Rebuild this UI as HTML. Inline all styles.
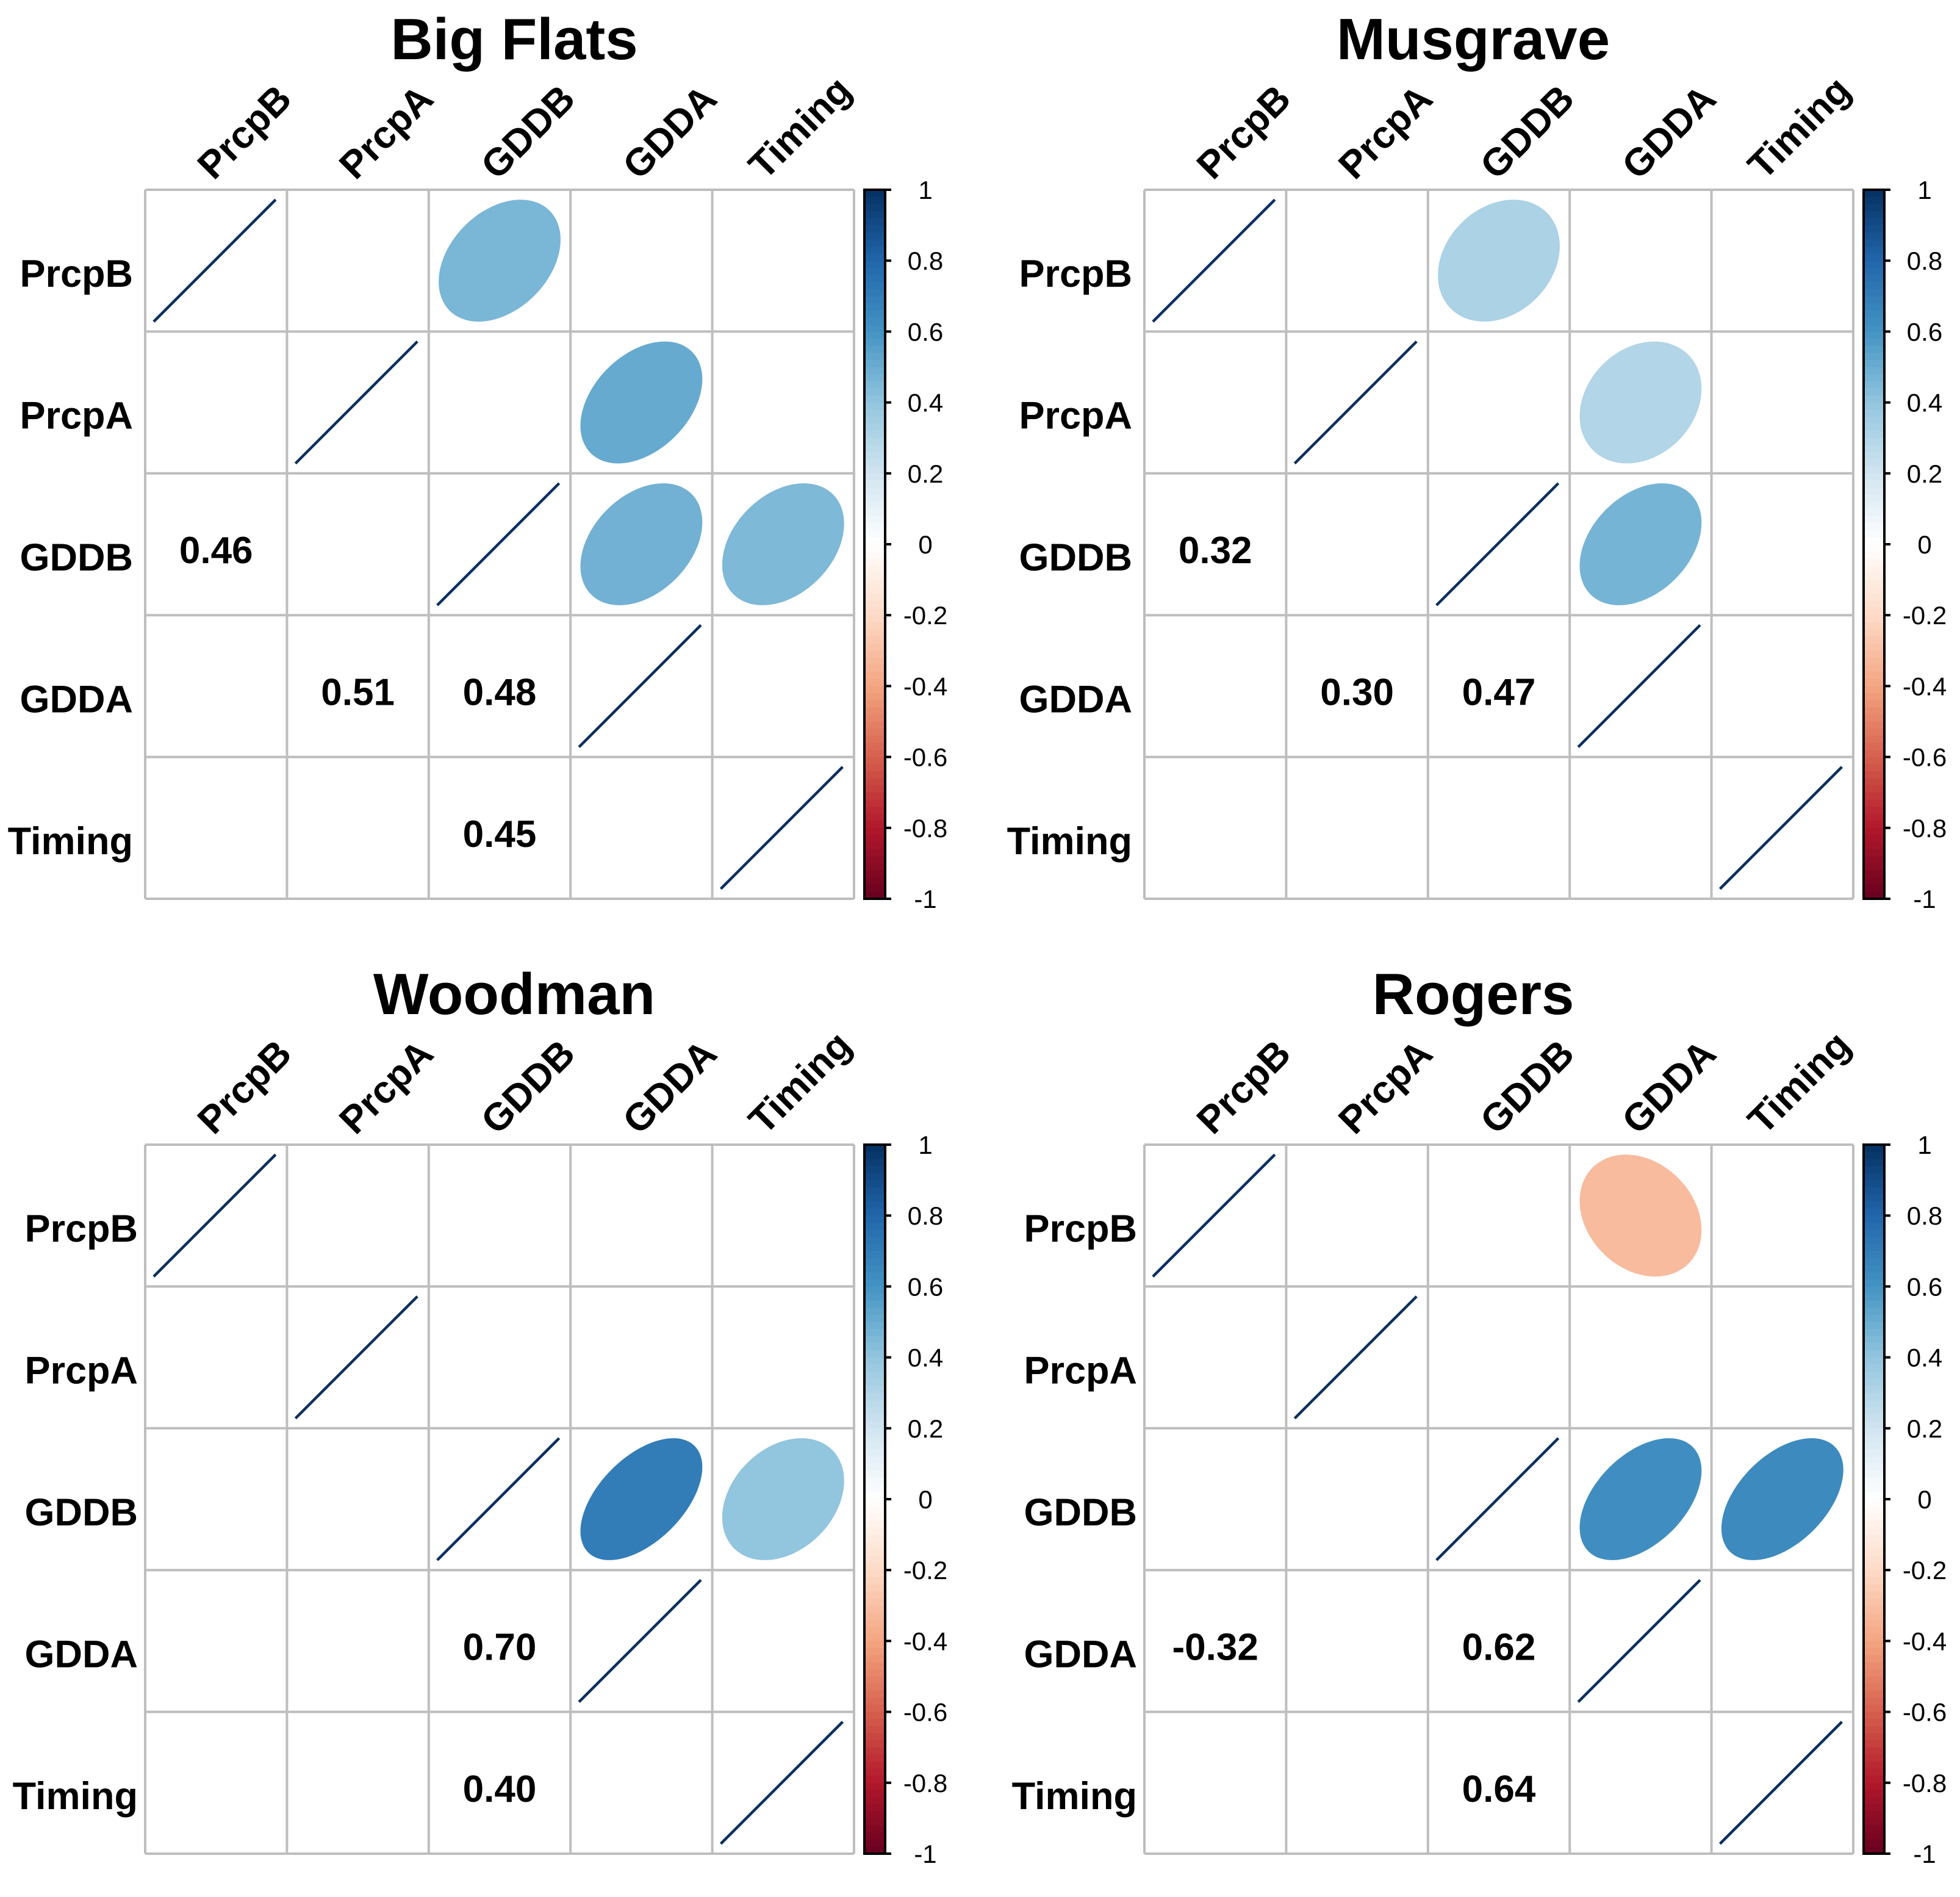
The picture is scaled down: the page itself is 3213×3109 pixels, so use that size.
<!DOCTYPE html>
<html><head><meta charset="utf-8"><style>
html,body{margin:0;padding:0;background:#fff;}
svg text{font-family:"Liberation Sans",Arial,sans-serif;}
</style></head><body>
<svg id="chart" xmlns="http://www.w3.org/2000/svg" width="3213" height="3104" viewBox="0 0 3213 3104"></svg>
<script>
const varNames = ["PrcpB","PrcpA","GDDB","GDDA","Timing"];
const panelTitles = ["Big Flats","Musgrave","Woodman","Rogers"];
// significant correlations: [row, col, value] (lower triangle; mirrored as ellipses)
const corrBigFlats = [[2,0,0.46],[3,1,0.51],[3,2,0.48],[4,2,0.45]];
const corrMusgrave = [[2,0,0.32],[3,1,0.30],[3,2,0.47]];
const corrWoodman = [[3,2,0.70],[4,2,0.40]];
const corrRogers = [[3,0,-0.32],[3,2,0.62],[4,2,0.64]];
const colorbarTicks = [1,0.8,0.6,0.4,0.2,0,-0.2,-0.4,-0.6,-0.8,-1];

const panelData = [corrBigFlats,corrMusgrave,corrWoodman,corrRogers];
const NS="http://www.w3.org/2000/svg";
const svg=document.getElementById('chart');
const stops=["#67001F","#B2182B","#D6604D","#F4A582","#FDDBC7","#FFFFFF","#D1E5F0","#92C5DE","#4393C3","#2166AC","#053061"];
function hex(h){return [1,3,5].map(i=>parseInt(h.substr(i,2),16));}
function colorFor(v){
  let p=(v+1)/2*10; let i=Math.min(9,Math.floor(p)); let f=p-i;
  const a=hex(stops[i]),b=hex(stops[i+1]);
  return 'rgb('+a.map((x,k)=>Math.round(x+(b[k]-x)*f)).join(',')+')';
}
function el(tag,attrs,parent){const e=document.createElementNS(NS,tag);for(const k in attrs)e.setAttribute(k,attrs[k]);(parent||svg).appendChild(e);return e;}

const CELL=232.4;
const origins=[[238,311],[1876,311],[238,1876],[1876,1876]];
const titleX=[843,2415,843,2415];

panelData.forEach((data,p)=>{
  const [gx,gy]=origins[p];
  const g=el('g',{});
  
  
  const sx=c=>gx+c*CELL, sy=r=>gy+r*CELL;
  const t=el('text',{x:titleX[p],y:97+(gy-311),'text-anchor':'middle','font-size':96,'font-weight':'bold'},g);
  t.textContent=panelTitles[p];
  
  
  for(let i=0;i<=5;i++){
    const h=el('line',{x1:sx(0),x2:sx(5),y1:sy(i),y2:sy(i),stroke:'#bebebe','stroke-width':4},g);
    
    
    const v=el('line',{x1:sx(i),x2:sx(i),y1:sy(0),y2:sy(5),stroke:'#bebebe','stroke-width':4},g);
    
    
  }
  const labRight = p<2 ? gx-20 : gx-12;
  varNames.forEach((n,i)=>{
    const rl=el('text',{x:labRight,y:sy(i+0.5)+43,'text-anchor':'end','font-size':63,'font-weight':'bold'},g);
    rl.textContent=n;
    
    
    const cx=sx(i+0.5)-4-(n==='Timing'?26:0), cy=gy-14;
    const cl=el('text',{x:cx,y:cy,'font-size':63,'font-weight':'bold',transform:'rotate(-45 '+cx+' '+cy+')'},g);
    cl.textContent=n;
    
    
    const x0=sx(i)+0.06*CELL,y0=sy(i)+0.93*CELL,x1=sx(i)+0.92*CELL,y1=sy(i)+0.07*CELL;
    const dl=el('line',{x1:x0,y1:y0,x2:x1,y2:y1,stroke:'#0b2f5f','stroke-width':4.5},g);
    
    
  });
  data.forEach(([r,c,v])=>{
    const tx=el('text',{x:sx(c+0.5),y:sy(r+0.5)+31,'text-anchor':'middle','font-size':62,'font-weight':'bold'},g);
    tx.textContent=v.toFixed(2);
    
    
    const d=Math.acos(0.75*v), cx=sx(r+0.5), cy=sy(c+0.5), R=0.43*CELL;
    let pts=[];
    for(let k=0;k<100;k++){const a=k/100*2*Math.PI;pts.push((cx+R*Math.cos(a+d/2)).toFixed(1)+','+(cy-R*Math.cos(a-d/2)).toFixed(1));}
    const e=el('polygon',{points:pts.join(' '),fill:colorFor(v)},g);
    
    
  });
  const bx=sx(5)+17, bw=34, top=sy(0), bot=sy(5);
  const cb=el('g',{},g);
  
  
  const N=100;
  for(let k=0;k<N;k++){
    const v=1-2*(k+0.5)/N;
    el('rect',{x:bx,y:top+(bot-top)*k/N,width:bw,height:(bot-top)/N+1,fill:colorFor(v)},cb);
  }
  el('rect',{x:bx,y:top,width:bw,height:bot-top,fill:'none',stroke:'#000','stroke-width':4},cb);
  colorbarTicks.forEach(tv=>{
    const y=top+(1-tv)/2*(bot-top);
    el('line',{x1:bx+bw,x2:bx+bw+10,y1:y,y2:y,stroke:'#000','stroke-width':4},cb);
    const tl=el('text',{x:bx+bw+66,y:y+15,'text-anchor':'middle','font-size':42},cb);
    tl.textContent=String(tv);
    
    
  });
});
</script>
</body></html>
